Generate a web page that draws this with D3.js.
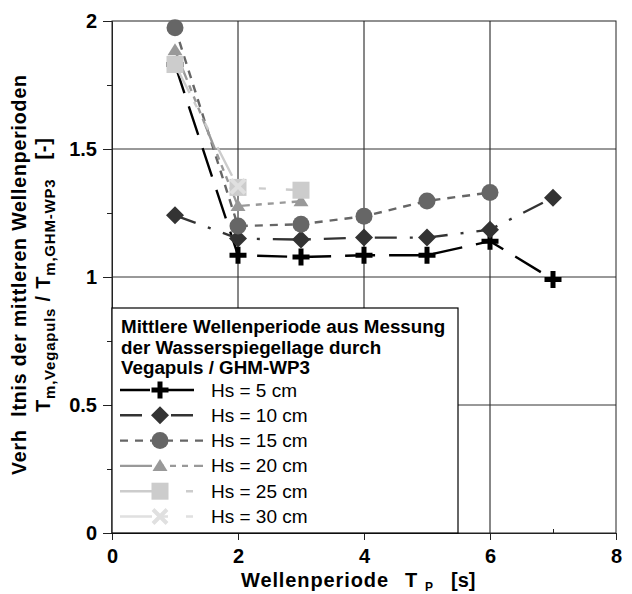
<!DOCTYPE html>
<html>
<head>
<meta charset="utf-8">
<script src="https://cdn.jsdelivr.net/npm/d3@7"></script>
<style>
  body { margin: 0; background: #fff; }
  text { font-family: Arial, "Liberation Sans", sans-serif; white-space: pre; }
</style>
</head>
<body>
<div id="chart"></div>
<script>
// periods T_P [s]
const periods = [1, 2, 3, 4, 5, 6, 7];

// ratio T_m,Vegapuls / T_m,GHM-WP3 per wave height (null = no measurement)
const hs5  = [1.83, 1.085, 1.078, 1.085, 1.085, 1.14, 0.99];
const hs10 = [1.241, 1.15, 1.146, 1.154, 1.154, 1.185, 1.31];
const hs15 = [1.974, 1.199, 1.206, 1.237, 1.297, 1.33, null];
const hs20 = [1.886, 1.277, 1.296, null, null, null, null];
const hs25 = [1.83, 1.35, 1.339, null, null, null, null];
const hs30 = [null, 1.354, null, null, null, null, null];

const seriesNames = ['Hs = 5 cm', 'Hs = 10 cm', 'Hs = 15 cm', 'Hs = 20 cm', 'Hs = 25 cm', 'Hs = 30 cm'];
const xTicks = [0, 2, 4, 6, 8];
const yTicks = [0, 0.5, 1, 1.5, 2];

const margin = {top: 21, right: 16, bottom: 61, left: 112};
const W = 632, H = 594;
const width = W - margin.left - margin.right;
const height = H - margin.top - margin.bottom;

const styles = [
  {color: '#000', dash: '30,14', marker: 'plus'},
  {color: '#333', dash: '22,13,3,13', marker: 'diamond'},
  {color: '#666', dash: '8,7', marker: 'circle'},
  {color: '#999', dash: '32,6,6,6,6,6,6,6', marker: 'triangle'},
  {color: '#ccc', dash: '32,10,6,18,7,20', marker: 'square'},
  {color: '#e0e0e0', dash: '32,10,6,18,7,20', marker: 'cross'}
];

const allSeries = [hs5, hs10, hs15, hs20, hs25, hs30].map((vals, i) => ({
  name: seriesNames[i],
  style: styles[i],
  points: periods.map((p, j) => ({x: p, y: vals[j]})).filter(d => d.y != null)
}));

const svg = d3.select('#chart').append('svg')
  .attr('width', W).attr('height', H);
const g = svg.append('g').attr('transform', `translate(${margin.left},${margin.top})`);

const x = d3.scaleLinear().domain([0, 8]).range([0, width]);
const y = d3.scaleLinear().domain([0, 2]).range([height, 0]);

// grid
g.append('g').selectAll('line').data([2, 4, 6]).join('line')
  .attr('x1', d => x(d)).attr('x2', d => x(d)).attr('y1', 0).attr('y2', height)
  .attr('stroke', '#111').attr('stroke-width', 1);
g.append('g').selectAll('line').data([0.5, 1, 1.5]).join('line')
  .attr('x1', 0).attr('x2', width).attr('y1', d => y(d)).attr('y2', d => y(d))
  .attr('stroke', '#333').attr('stroke-width', 1);
g.append('rect').attr('width', width).attr('height', height)
  .attr('fill', 'none').attr('stroke', '#222').attr('stroke-width', 1);

// axes
const xAxis = g.append('g').attr('transform', `translate(0,${height})`)
  .call(d3.axisBottom(x).tickValues(xTicks).tickSize(7).tickPadding(9).tickFormat(d3.format('d')));
g.append('g').attr('transform', `translate(0,${height})`)
  .call(d3.axisTop(x).tickValues([1, 3, 5, 7]).tickSize(4).tickFormat(''))
  .call(a => a.select('.domain').remove());
const yAxis = g.append('g')
  .call(d3.axisLeft(y).tickValues(yTicks).tickSize(9).tickPadding(6).tickFormat(d => d));
g.append('g')
  .call(d3.axisLeft(y).tickValues([0.25, 0.75, 1.25, 1.75]).tickSize(5).tickFormat(''))
  .call(a => a.select('.domain').remove());
g.selectAll('.tick line').attr('stroke', '#222');
g.selectAll('.domain').attr('stroke', '#222');
[xAxis, yAxis].forEach(a => a.selectAll('text')
  .attr('font-size', 20).attr('font-weight', 'bold').attr('fill', '#000')
  .style('font-family', 'Arial, "Liberation Sans", sans-serif'));

// markers
function drawMarker(sel, type, color) {
  if (type === 'plus') {
    sel.append('path').attr('d', 'M-8.5,0H8.5M0,-8.5V8.5').attr('stroke', color).attr('stroke-width', 5);
  } else if (type === 'cross') {
    sel.append('path').attr('d', 'M-7,-7L7,7M-7,7L7,-7').attr('stroke', color).attr('stroke-width', 4);
  } else if (type === 'circle') {
    sel.append('circle').attr('r', 8.5).attr('fill', color);
  } else if (type === 'diamond') {
    sel.append('path').attr('d', 'M0,-9L9,0L0,9L-9,0Z').attr('fill', color);
  } else if (type === 'triangle') {
    sel.append('path').attr('d', 'M0,-7L7.5,5H-7.5Z').attr('fill', color);
  } else if (type === 'square') {
    sel.append('rect').attr('x', -8.5).attr('y', -8.5).attr('width', 17).attr('height', 17).attr('fill', color);
  }
}

const line = d3.line().x(d => x(d.x)).y(d => y(d.y));

// series in order, later ones on top
allSeries.forEach(s => {
  g.append('path').datum(s.points)
    .attr('d', line).attr('fill', 'none')
    .attr('stroke', s.style.color).attr('stroke-width', 2.4)
    .attr('stroke-dasharray', s.style.dash);
  s.points.forEach(p => {
    const m = g.append('g').attr('transform', `translate(${x(p.x)},${y(p.y)})`);
    drawMarker(m, s.style.marker, s.style.color);
  });
});

// legend
const lg = g.append('g');
const lgW = 346, lgTop = y(0) - 225;
lg.append('rect').attr('x', 0).attr('y', lgTop).attr('width', lgW).attr('height', height - lgTop)
  .attr('fill', '#fff').attr('stroke', '#000').attr('stroke-width', 1.2);
const titleLines = ['Mittlere Wellenperiode aus Messung', 'der Wasserspiegellage durch', 'Vegapuls / GHM-WP3'];
lg.selectAll('text.title').data(titleLines).join('text')
  .attr('class', 'title')
  .attr('x', 9).attr('y', (d, i) => lgTop + 25 + i * 20.5)
  .attr('font-size', 18.8).attr('font-weight', 'bold').text(d => d);
allSeries.forEach((s, i) => {
  const cy = lgTop + 82 + i * 25.3;
  lg.append('line').attr('x1', 8).attr('x2', 91).attr('y1', cy).attr('y2', cy)
    .attr('stroke', s.style.color).attr('stroke-width', 2.4)
    .attr('stroke-dasharray', s.style.dash);
  const m = lg.append('g').attr('transform', `translate(48,${cy})`);
  drawMarker(m, s.style.marker, s.style.color);
  lg.append('text').attr('x', 99).attr('y', cy + 6.5).attr('font-size', 19).text(s.name);
});

// axis titles
const xl = svg.append('g').attr('font-weight', 'bold').attr('font-size', 20);
xl.append('text').attr('x', 241).attr('y', 587).attr('textLength', 147).text('Wellenperiode');
xl.append('text').attr('x', 405).attr('y', 587).text('T');
xl.append('text').attr('x', 425).attr('y', 591).attr('font-size', 12).text('P');
xl.append('text').attr('x', 451).attr('y', 587).text('[s]');

const yt = svg.append('g').attr('transform', 'rotate(-90)').attr('font-weight', 'bold');
yt.append('text').attr('x', -475).attr('y', 26).attr('font-size', 19.5)
  .attr('textLength', 400).attr('lengthAdjust', 'spacing')
  .text('Verh  ltnis der mittleren Wellenperioden');
const yt2 = yt.append('text').attr('x', -412).attr('y', 50).attr('font-size', 20)
  .attr('textLength', 274).attr('lengthAdjust', 'spacing');
yt2.append('tspan').text('T');
yt2.append('tspan').attr('font-size', 15).attr('dy', 5).text('m,Vegapuls');
yt2.append('tspan').attr('dy', -5).text(' / T');
yt2.append('tspan').attr('font-size', 15).attr('dy', 5).text('m,GHM-WP3');
yt2.append('tspan').attr('dy', -5).text('   [-]');
</script>
</body>
</html>
